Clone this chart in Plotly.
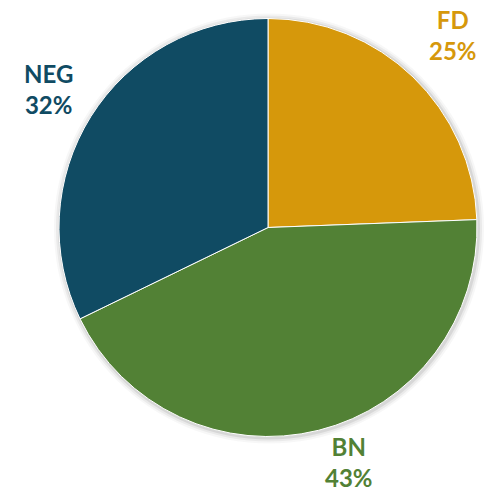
import math
import plotly.graph_objects as go

categories = ["FD", "BN", "NEG"]
values = [24.4, 43.4, 32.2]
pct_labels = ["25%", "43%", "32%"]
colors = ["#D6980B", "#528135", "#104B63"]

W, H = 501, 495
cx, cy, R = 268, 227.5, 209  # pie centre / radius in pixels
LBL_W, LBL_H, LBL_OFF = 58, 62, 16  # label box size and offset from the rim

dom_x = [(cx - R) / W, (cx + R) / W]
dom_y = [1 - (cy + R) / H, 1 - (cy - R) / H]

fig = go.Figure()

# soft shadow rings
for k, a in [(6, 0.03), (4, 0.05), (2, 0.08)]:
    fig.add_trace(go.Pie(
        values=[1], labels=["s"], sort=False, hoverinfo="skip", textinfo="none",
        marker=dict(colors=[f"rgba(0,0,0,{a})"], line=dict(width=0)),
        domain=dict(x=[(cx - R - k + 1) / W, (cx + R + k + 1) / W],
                    y=[1 - (cy + R + k + 1) / H, 1 - (cy - R - k + 1) / H]),
        showlegend=False,
    ))

fig.add_trace(go.Pie(
    labels=categories, values=values, sort=False, direction="clockwise",
    rotation=0, textinfo="none",
    marker=dict(colors=colors, line=dict(color="white", width=1)),
    domain=dict(x=dom_x, y=dom_y), showlegend=False,
))

total = sum(values)
cum = 0
for cat, v, p, c in zip(categories, values, pct_labels, colors):
    mid = (cum + v / 2) / total * 2 * math.pi
    cum += v
    vx, vy = math.sin(mid), -math.cos(mid)
    ex, ey = cx + R * vx, cy + R * vy
    vs = 1 / max(abs(vx), abs(vy))
    px = ex + LBL_W / 2 * vx * vs + LBL_OFF * vx
    py = ey + LBL_H / 2 * vy * vs + LBL_OFF * vy
    # keep label inside the figure, sliding it sideways when pushed back
    py_c = min(max(py, LBL_H / 2 + 4), H - LBL_H / 2 - 2)
    px += math.copysign(abs(py - py_c) * 1.3, vx)
    py = py_c
    px = min(max(px, LBL_W / 2 + 4), W - LBL_W / 2 - 4)
    fig.add_annotation(
        x=px / W, y=1 - py / H, xref="paper", yref="paper",
        text=f"<b>{cat}<br>{p}</b>", showarrow=False,
        font=dict(family="Lato", size=24, color=c),
        align="center", xanchor="center", yanchor="middle",
    )

fig.update_layout(
    width=W, height=H, margin=dict(l=0, r=0, t=0, b=0),
    paper_bgcolor="white", plot_bgcolor="white",
)
fig.write_html("out.html", config={"displayModeBar": False},
               post_script="document.body.style.margin='0';document.body.style.padding='0';")
